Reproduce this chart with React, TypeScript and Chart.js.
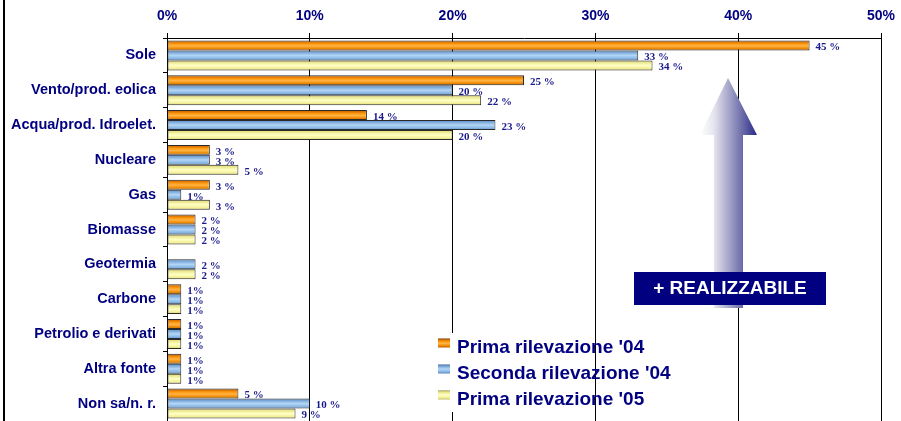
import React, { useEffect, useRef } from 'react';
import { Chart, registerables } from 'chart.js';

Chart.register(...registerables);

const categories = [
  'Sole',
  'Vento/prod. eolica',
  'Acqua/prod. Idroelet.',
  'Nucleare',
  'Gas',
  'Biomasse',
  'Geotermia',
  'Carbone',
  'Petrolio e derivati',
  'Altra fonte',
  'Non sa/n. r.',
];
const primaRilevazione04: (number | null)[] = [45, 25, 14, 3, 3, 2, null, 1, 1, 1, 5];
const secondaRilevazione04: (number | null)[] = [33, 20, 23, 3, 1, 2, 2, 1, 1, 1, 10];
const primaRilevazione05: (number | null)[] = [34, 22, 20, 5, 3, 2, 2, 1, 1, 1, 9];
const seriesNames = ["Prima rilevazione '04", "Seconda rilevazione '04", "Prima rilevazione '05"];
const xMin = 0;
const xMax = 50;
const xStep = 10;
const annotationText = '+ REALIZZABILE';

const NAVY = '#000080';
const CAT_PCT = 0.86;

type Stops = [number, string][];
const orangeStops: Stops = [
  [0, '#6a3400'], [0.14, '#d87000'], [0.35, '#ff9a10'], [0.55, '#ffb447'], [0.8, '#f08a00'], [1, '#b85c00'],
];
const blueStops: Stops = [
  [0, '#3a5c8c'], [0.14, '#6e9ed4'], [0.5, '#b4d6f6'], [0.8, '#86b6e6'], [1, '#5a86ba'],
];
const yellowStops: Stops = [
  [0, '#80803a'], [0.14, '#e6e282'], [0.5, '#ffffc4'], [0.8, '#f4f098'], [1, '#c4bc6a'],
];
const seriesStops = [orangeStops, blueStops, yellowStops];
const seriesFlat = ['#f08c00', '#8cbcec', '#f6f2a0'];

const makeBg = (stops: Stops, fallback: string) => (ctx: any) => {
  const chart = ctx.chart;
  const ys = chart.scales && chart.scales.y;
  if (ctx.type !== 'data' || !ys) return fallback;
  const n = categories.length;
  const cat = (ys.bottom - ys.top) / n;
  const group = cat * CAT_PCT;
  const bar = group / 3;
  const center = ys.getPixelForValue(ctx.dataIndex);
  const top = center - group / 2 + ctx.datasetIndex * bar;
  if (!isFinite(top)) return fallback;
  const g = chart.ctx.createLinearGradient(0, top, 0, top + bar);
  stops.forEach(([o, c]) => g.addColorStop(o, c));
  return g;
};

const fmt = (v: number) => (v === 1 ? `${v}%` : `${v} %`);

const valueLabels = {
  id: 'valueLabels',
  afterDatasetsDraw(chart: any) {
    const { ctx } = chart;
    ctx.save();
    ctx.font = 'bold 11px "Liberation Serif", "DejaVu Serif", serif';
    ctx.fillStyle = '#1a1a8c';
    ctx.textBaseline = 'middle';
    ctx.textAlign = 'left';
    chart.data.datasets.forEach((ds: any, di: number) => {
      const meta = chart.getDatasetMeta(di);
      meta.data.forEach((el: any, i: number) => {
        const v = ds.data[i];
        if (v == null) return;
        const { x, y } = el.getProps(['x', 'y'], true);
        ctx.fillText(fmt(v), x + 6, y + 2);
      });
    });
    ctx.restore();
  },
};

const decorations = {
  id: 'decorations',
  afterDraw(chart: any) {
    const { ctx } = chart;
    ctx.save();
    // left frame line
    ctx.fillStyle = '#000';
    ctx.fillRect(3, 0, 2, chart.height);

    // arrow
    const g = ctx.createLinearGradient(700, 0, 757, 0);
    g.addColorStop(0, 'rgba(255,255,255,1)');
    g.addColorStop(0.25, '#e4e4ee');
    g.addColorStop(0.75, '#6a6aa8');
    g.addColorStop(1, '#2a2a8a');
    ctx.fillStyle = g;
    ctx.beginPath();
    ctx.moveTo(728, 78);
    ctx.lineTo(757, 135);
    ctx.lineTo(743, 135);
    ctx.lineTo(743, 308);
    ctx.lineTo(714, 308);
    ctx.lineTo(714, 135);
    ctx.lineTo(700, 135);
    ctx.closePath();
    ctx.fill();

    // box
    ctx.fillStyle = NAVY;
    ctx.fillRect(634, 272, 192, 33);
    ctx.fillStyle = '#fff';
    ctx.font = 'bold 19px "Liberation Sans", Arial, sans-serif';
    ctx.textAlign = 'center';
    ctx.textBaseline = 'middle';
    ctx.fillText(annotationText, 730, 289);

    // legend
    ctx.fillStyle = '#fff';
    ctx.fillRect(436, 333, 155, 79);
    ctx.textAlign = 'left';
    ctx.textBaseline = 'alphabetic';
    seriesNames.forEach((name, i) => {
      const cy = 343 + i * 26;
      const lg = ctx.createLinearGradient(0, cy - 4.5, 0, cy + 4.5);
      seriesStops[i].forEach(([o, c]) => lg.addColorStop(o, c));
      ctx.fillStyle = lg;
      ctx.fillRect(438, cy - 4.5, 12, 9);
      ctx.fillStyle = NAVY;
      ctx.font = 'bold 19px "Liberation Sans", Arial, sans-serif';
      ctx.fillText(name, 457, 353 + i * 26);
    });
    ctx.restore();
  },
};

export default function App() {
  const ref = useRef<HTMLCanvasElement>(null);
  useEffect(() => {
    if (!ref.current) return;
    const seriesData = [primaRilevazione04, secondaRilevazione04, primaRilevazione05];
    const chart = new Chart(ref.current, {
      type: 'bar',
      data: {
        labels: categories,
        datasets: seriesData.map((d, i) => ({
          label: seriesNames[i],
          data: d,
          backgroundColor: makeBg(seriesStops[i], seriesFlat[i]),
          borderColor: '#2a2a2a',
          borderWidth: 1,
          borderSkipped: false,
          categoryPercentage: CAT_PCT,
          barPercentage: 1,
        })),
      },
      options: {
        indexAxis: 'y',
        responsive: false,
        animation: false,
        layout: { padding: { left: 0, right: 20, top: 0, bottom: 0 } },
        plugins: {
          legend: { display: false },
          tooltip: { enabled: false },
        },
        scales: {
          x: {
            position: 'top',
            min: xMin,
            max: xMax,
            ticks: {
              stepSize: xStep,
              callback: (v: any) => `${v}%`,
              color: NAVY,
              font: { family: '"Liberation Sans", Arial, sans-serif', size: 14, weight: 'bold' },
              padding: 8,
            },
            grid: { color: '#000', lineWidth: 1, tickLength: 5 },
            border: { color: '#000', width: 1 },
            afterFit: (s: any) => { s.height = 38; s.paddingLeft = 0; s.paddingRight = 0; },
          },
          y: {
            ticks: {
              color: NAVY,
              font: { family: '"Liberation Sans", Arial, sans-serif', size: 14.5, weight: 'bold' },
              padding: 7,
            },
            grid: { display: true, drawOnChartArea: false, color: '#000', tickLength: 4, offset: true },
            border: { color: '#000', width: 1 },
            afterFit: (s: any) => { s.width = 167; s.paddingTop = 0; s.paddingBottom = 0; },
          },
        },
      },
      plugins: [valueLabels, decorations],
    });
    return () => chart.destroy();
  }, []);
  return (
    <div style={{ position: 'absolute', left: 0, top: 0, width: 901, height: 421, background: '#fff' }}>
      <canvas ref={ref} width={901} height={421} style={{ display: 'block' }} />
    </div>
  );
}
